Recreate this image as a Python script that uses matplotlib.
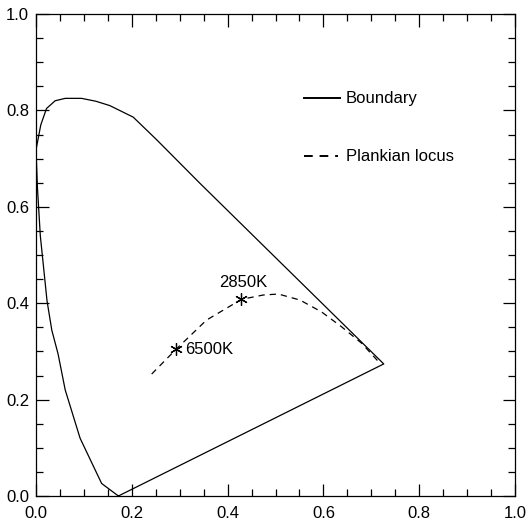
import matplotlib
matplotlib.use("Agg")
import matplotlib.pyplot as plt
import matplotlib.ticker as ticker
import matplotlib.lines as mlines

# Chromaticity boundary (spectral locus, closed by the purple line)
bound_x = [0.172, 0.137, 0.092, 0.061, 0.046, 0.033, 0.023, 0.009, 0.003, 0.000,
           0.010, 0.022, 0.040, 0.061, 0.095, 0.125, 0.154, 0.203, 0.252, 0.342, 0.726, 0.172]
bound_y = [0.000, 0.026, 0.120, 0.220, 0.295, 0.344, 0.405, 0.540, 0.640, 0.718,
           0.770, 0.804, 0.820, 0.825, 0.825, 0.819, 0.810, 0.786, 0.739, 0.649, 0.274, 0.000]

# Planckian locus
planck_x = [0.2415, 0.292, 0.356, 0.429, 0.4745, 0.506, 0.551, 0.596, 0.638, 0.680, 0.715]
planck_y = [0.253, 0.304, 0.365, 0.408, 0.417, 0.419, 0.4066, 0.382, 0.351, 0.3168, 0.2787]

# marked temperatures
temp_labels = ['6500K', '2850K']
temp_x = [0.292, 0.429]
temp_y = [0.304, 0.408]

plt.rcParams['font.family'] = ['Liberation Sans', 'DejaVu Sans']
fig = plt.figure(figsize=(5.27, 5.21), dpi=100)
ax = fig.add_axes([36 / 527, 25 / 521, 479 / 527, 482 / 521])

ax.plot(bound_x, bound_y, color='black', lw=0.9)
ax.plot(planck_x, planck_y, color='black', lw=0.9, ls=(0, (5, 4)))
ax.plot(temp_x, temp_y, ls='none', marker=(6, 2, 0), ms=9, mew=0.9, color='black')

# temperature labels
ax.text(temp_x[0] + 0.02, temp_y[0], temp_labels[0], fontsize=12, va='center', ha='left')
ax.text(temp_x[1] + 0.003, temp_y[1] + 0.02, temp_labels[1], fontsize=12, va='bottom', ha='center')

# legend drawn by hand like the original
ax.add_line(mlines.Line2D([0.560, 0.635], [0.825, 0.825], color='black', lw=1.4))
ax.add_line(mlines.Line2D([0.560, 0.630], [0.705, 0.705], color='black', lw=1.4, ls=(0, (4.5, 3.5))))
ax.text(0.647, 0.825, 'Boundary', fontsize=12, va='center', ha='left')
ax.text(0.647, 0.705, 'Plankian locus', fontsize=12, va='center', ha='left')

ax.set_xlim(0, 1)
ax.set_ylim(0, 1)
ax.xaxis.set_major_locator(ticker.MultipleLocator(0.2))
ax.xaxis.set_minor_locator(ticker.MultipleLocator(0.05))
ax.yaxis.set_major_locator(ticker.MultipleLocator(0.2))
ax.yaxis.set_minor_locator(ticker.MultipleLocator(0.05))
ax.xaxis.set_major_formatter(ticker.FormatStrFormatter('%.1f'))
ax.yaxis.set_major_formatter(ticker.FormatStrFormatter('%.1f'))
ax.tick_params(which='both', direction='in', top=True, right=True, labelsize=12, width=0.9)
ax.tick_params(which='major', length=9, pad=5)
ax.tick_params(which='minor', length=5)
ax.tick_params(axis='x', which='major', pad=7)
for s in ax.spines.values():
    s.set_linewidth(0.9)

fig.savefig('out.png', dpi=100)
